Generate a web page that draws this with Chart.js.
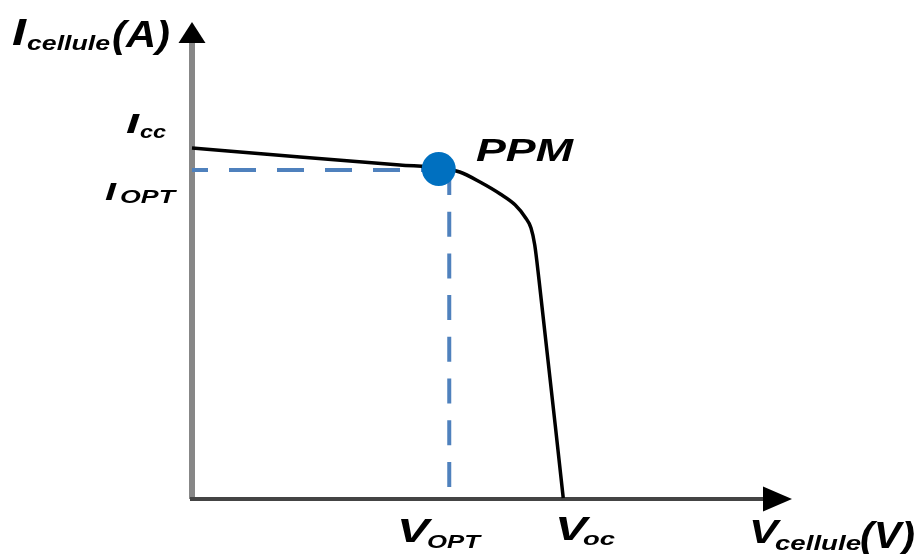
<!DOCTYPE html>
<html>
<head>
<meta charset="utf-8">
<script src="https://cdn.jsdelivr.net/npm/chart.js@4.4.1/dist/chart.umd.min.js"></script>
<style>
html,body{margin:0;padding:0;background:#fff;}
#wrap{width:917px;height:554px;}
</style>
</head>
<body>
<div id="wrap"><canvas id="c" width="917" height="554"></canvas></div>
<script>
// I-V characteristic of a solar cell (arbitrary units)
const voltage = [0, 0.144, 0.277, 0.331, 0.357, 0.384, 0.411, 0.431, 0.444, 0.452, 0.457, 0.4627, 0.495];
const current = [3.50, 3.41, 3.33, 3.30, 3.26, 3.16, 3.04, 2.93, 2.81, 2.70, 2.53, 2.18, 0.0];
const ppmPoint = [0.329, 3.29];      // marker (V, I)
const iOptLevel = [3.28];            // horizontal dashed reference
const vOptLevel = [0.343];           // vertical dashed reference

const X_MAX = 0.8, Y_MAX = 4.76;

const curveData = voltage.map((v, i) => ({x: v, y: current[i]}));

function drawFit(ctx, text, left, baseline, size, width) {
  ctx.font = 'italic bold ' + size + 'px "Liberation Sans", Arial, sans-serif';
  const w = ctx.measureText(text).width;
  ctx.save();
  ctx.translate(left, baseline);
  ctx.scale(width / w, 1);
  ctx.fillText(text, 0, 0);
  ctx.restore();
}

const axesPlugin = {
  id: 'axesPlugin',
  beforeDatasetsDraw(chart) {
    const ctx = chart.ctx;
    const xs = chart.scales.x, ys = chart.scales.y;
    const x0 = xs.getPixelForValue(0), y0 = ys.getPixelForValue(0);
    const yTop = ys.getPixelForValue(Y_MAX);
    const xEnd = xs.getPixelForValue(X_MAX);
    ctx.save();
    // y axis (grey)
    ctx.strokeStyle = '#878787';
    ctx.lineWidth = 6;
    ctx.beginPath();
    ctx.moveTo(x0, yTop + 20);
    ctx.lineTo(x0, y0 + 1);
    ctx.stroke();
    // x axis (dark grey)
    ctx.strokeStyle = '#444444';
    ctx.lineWidth = 4;
    ctx.beginPath();
    ctx.moveTo(x0 - 2, y0 + 1);
    ctx.lineTo(xEnd - 28, y0 + 1);
    ctx.stroke();
    // arrow heads
    ctx.fillStyle = '#000';
    ctx.beginPath();
    ctx.moveTo(x0, yTop);
    ctx.lineTo(x0 - 13.5, yTop + 21);
    ctx.lineTo(x0 + 13.5, yTop + 21);
    ctx.closePath();
    ctx.fill();
    ctx.beginPath();
    ctx.moveTo(xEnd, y0 + 1);
    ctx.lineTo(xEnd - 29, y0 - 11.5);
    ctx.lineTo(xEnd - 29, y0 + 13.5);
    ctx.closePath();
    ctx.fill();
    ctx.restore();
  },
  afterDraw(chart) {
    const ctx = chart.ctx;
    ctx.save();
    ctx.fillStyle = '#000';
    ctx.textBaseline = 'alphabetic';
    ctx.textAlign = 'left';
    // Y axis title: I cellule (A)
    drawFit(ctx, 'I', 12, 45, 36, 14);
    drawFit(ctx, 'cellule', 27, 50, 20, 83);
    drawFit(ctx, '(A)', 112, 47, 36, 58);
    // Icc
    drawFit(ctx, 'I', 126, 133, 28, 13);
    drawFit(ctx, 'cc', 140, 138, 18, 26);
    // IOPT
    drawFit(ctx, 'I', 105, 200, 24, 11);
    drawFit(ctx, 'OPT', 120, 203, 19, 55);
    // PPM
    drawFit(ctx, 'PPM', 476, 161, 31, 97);
    // VOPT
    drawFit(ctx, 'V', 397, 542, 34, 32);
    drawFit(ctx, 'OPT', 427, 548, 18, 53);
    // Voc
    drawFit(ctx, 'V', 555, 540, 34, 32);
    drawFit(ctx, 'oc', 583, 545, 19, 32);
    // X axis title: V cellule (V)
    drawFit(ctx, 'V', 749, 543, 33, 29);
    drawFit(ctx, 'cellule', 775, 550, 20, 86);
    drawFit(ctx, '(V)', 860, 548, 36, 55);
    ctx.restore();
  }
};

new Chart(document.getElementById('c'), {
  type: 'scatter',
  data: {
    datasets: [
      {
        label: 'PPM',
        data: [{x: ppmPoint[0], y: ppmPoint[1]}],
        pointRadius: 17,
        pointHoverRadius: 17,
        pointBackgroundColor: '#0070C0',
        pointBorderColor: '#0070C0',
        pointBorderWidth: 0,
        showLine: false,
        order: 0,
        clip: false
      },
      {
        label: 'I-V',
        data: curveData,
        showLine: true,
        borderColor: '#000',
        borderWidth: 3.5,
        pointRadius: 0,
        cubicInterpolationMode: 'monotone',
        fill: false,
        order: 1,
        clip: false
      },
      {
        label: 'IOPT',
        data: [{x: 0, y: iOptLevel[0]}, {x: ppmPoint[0], y: iOptLevel[0]}],
        showLine: true,
        borderColor: '#4F81BD',
        borderWidth: 4,
        borderDash: [27, 21],
        borderDashOffset: 11,
        pointRadius: 0,
        order: 2,
        clip: false
      },
      {
        label: 'VOPT',
        data: [{x: vOptLevel[0], y: iOptLevel[0]}, {x: vOptLevel[0], y: 0}],
        showLine: true,
        borderColor: '#4F81BD',
        borderWidth: 4,
        borderDash: [25, 16.7],
        pointRadius: 0,
        order: 2,
        clip: false
      }
    ]
  },
  options: {
    responsive: false,
    animation: false,
    devicePixelRatio: 1,
    layout: {padding: {left: 192, right: 125, top: 22, bottom: 56}},
    plugins: {legend: {display: false}, tooltip: {enabled: false}},
    events: [],
    scales: {
      x: {type: 'linear', min: 0, max: X_MAX, display: false},
      y: {type: 'linear', min: 0, max: Y_MAX, display: false}
    }
  },
  plugins: [axesPlugin]
});
</script>
</body>
</html>
